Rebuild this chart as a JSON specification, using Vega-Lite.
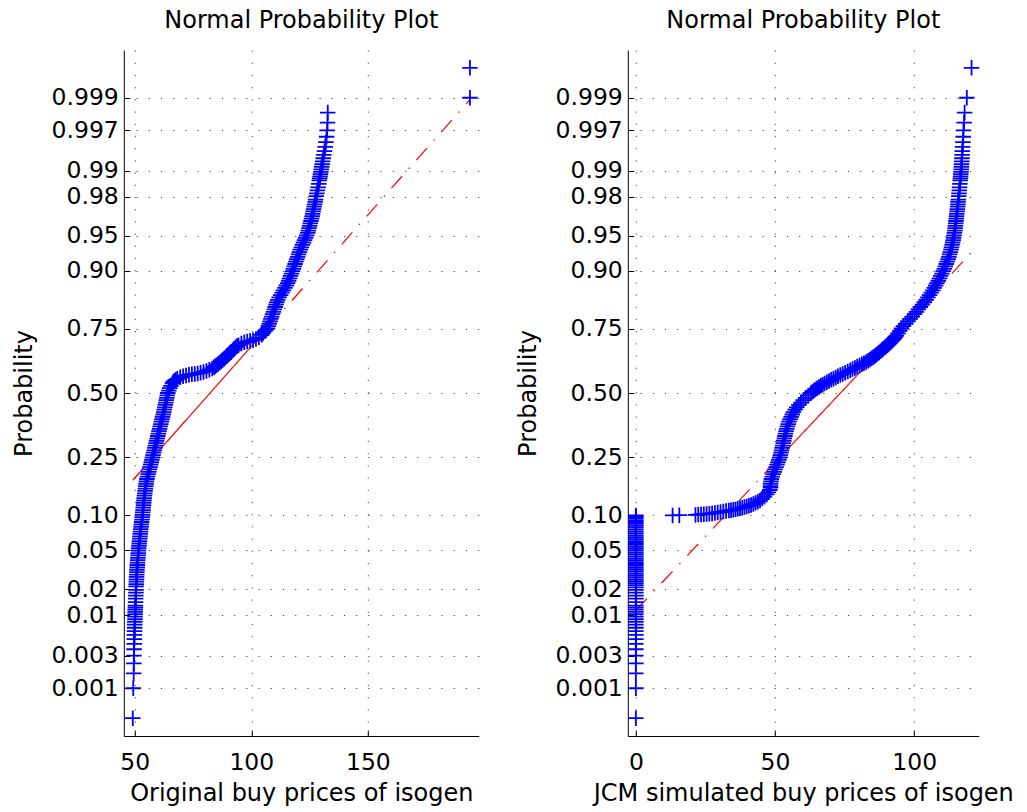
{
  "$schema": "https://vega.github.io/schema/vega-lite/v6.json",
  "background": "white",
  "padding": {"left": 11.8, "top": 9, "right": 0, "bottom": 0},
  "config": {
    "view": {"stroke": null},
    "font": "DejaVu Sans",
    "axis": {
      "domainColor": "#000000",
      "domainWidth": 1,
      "tickColor": "#000000",
      "tickSize": -6,
      "tickWidth": 1,
      "labelFont": "DejaVu Sans",
      "labelFontSize": 23.5,
      "labelColor": "#000000",
      "labelOverlap": false,
      "labelFlush": false,
      "labelBound": false,
      "titleFont": "DejaVu Sans",
      "titleFontSize": 24,
      "titleFontWeight": "normal",
      "titleColor": "#000000",
      "grid": true,
      "gridColor": "#333333",
      "gridDash": [1.2, 11],
      "gridWidth": 1,
      "gridOpacity": 0.9
    },
    "axisX": {"labelPadding": 21, "titlePadding": 7},
    "axisY": {"labelPadding": 11.5, "titlePadding": 14.7},
    "title": {
      "font": "DejaVu Sans",
      "fontSize": 24,
      "fontWeight": "normal",
      "color": "#000000",
      "frame": "group",
      "anchor": "middle",
      "baseline": "alphabetic",
      "offset": 17
    }
  },
  "datasets": {
    "left_pts": [
      {"price":49.15,"z":-3.403},{"price":49.35,"z":-3.09},{"price":49.55,"z":-2.935},{"price":49.6,"z":-2.829},
      {"price":49.65,"z":-2.748},{"price":49.7,"z":-2.682},{"price":49.75,"z":-2.625},{"price":49.8,"z":-2.576},
      {"price":49.85,"z":-2.532},{"price":49.9,"z":-2.493},{"price":49.95,"z":-2.457},{"price":50.0,"z":-2.424},
      {"price":50.05,"z":-2.394},{"price":50.1,"z":-2.366},{"price":50.1,"z":-2.34},{"price":50.15,"z":-2.315},
      {"price":50.2,"z":-2.29},{"price":50.2,"z":-2.268},{"price":50.25,"z":-2.247},{"price":50.3,"z":-2.226},
      {"price":50.35,"z":-2.188},{"price":50.4,"z":-2.153},{"price":50.45,"z":-2.12},{"price":50.5,"z":-2.09},
      {"price":50.55,"z":-2.061},
      {"price":50.57,"z":-2.025},{"price":50.63,"z":-2.0},{"price":50.68,"z":-1.975},{"price":50.74,"z":-1.95},
      {"price":50.79,"z":-1.925},{"price":50.85,"z":-1.9},{"price":50.9,"z":-1.875},{"price":50.96,"z":-1.85},
      {"price":51.04,"z":-1.825},{"price":51.12,"z":-1.8},{"price":51.2,"z":-1.775},{"price":51.27,"z":-1.75},
      {"price":51.35,"z":-1.725},{"price":51.43,"z":-1.7},{"price":51.51,"z":-1.675},{"price":51.58,"z":-1.65},
      {"price":51.69,"z":-1.625},{"price":51.8,"z":-1.6},{"price":51.9,"z":-1.575},{"price":52.01,"z":-1.55},
      {"price":52.12,"z":-1.525},{"price":52.23,"z":-1.5},{"price":52.33,"z":-1.475},{"price":52.46,"z":-1.45},
      {"price":52.58,"z":-1.425},{"price":52.71,"z":-1.4},{"price":52.84,"z":-1.375},{"price":52.96,"z":-1.35},
      {"price":53.09,"z":-1.325},{"price":53.22,"z":-1.3},{"price":53.34,"z":-1.275},{"price":53.44,"z":-1.25},
      {"price":53.54,"z":-1.225},{"price":53.64,"z":-1.2},{"price":53.74,"z":-1.175},{"price":53.84,"z":-1.15},
      {"price":53.94,"z":-1.125},{"price":54.04,"z":-1.1},{"price":54.16,"z":-1.075},{"price":54.3,"z":-1.05},
      {"price":54.44,"z":-1.025},{"price":54.58,"z":-1.0},{"price":54.72,"z":-0.975},{"price":54.86,"z":-0.95},
      {"price":55.0,"z":-0.925},{"price":55.21,"z":-0.9},{"price":55.48,"z":-0.875},{"price":55.76,"z":-0.85},
      {"price":56.03,"z":-0.825},{"price":56.3,"z":-0.8},{"price":56.56,"z":-0.775},{"price":56.82,"z":-0.75},
      {"price":57.08,"z":-0.725},{"price":57.33,"z":-0.7},{"price":57.59,"z":-0.675},{"price":57.84,"z":-0.65},
      {"price":58.1,"z":-0.625},{"price":58.36,"z":-0.6},{"price":58.61,"z":-0.575},{"price":58.87,"z":-0.55},
      {"price":59.12,"z":-0.525},{"price":59.38,"z":-0.5},{"price":59.64,"z":-0.475},{"price":59.89,"z":-0.45},
      {"price":60.15,"z":-0.425},{"price":60.4,"z":-0.4},{"price":60.66,"z":-0.375},{"price":60.92,"z":-0.35},
      {"price":61.17,"z":-0.325},{"price":61.43,"z":-0.3},{"price":61.68,"z":-0.275},{"price":61.94,"z":-0.25},
      {"price":62.2,"z":-0.225},{"price":62.45,"z":-0.2},{"price":62.66,"z":-0.175},{"price":62.88,"z":-0.15},
      {"price":63.09,"z":-0.125},{"price":63.31,"z":-0.1},{"price":63.52,"z":-0.075},{"price":63.74,"z":-0.05},
      {"price":63.95,"z":-0.025},{"price":64.17,"z":0.0},{"price":64.59,"z":0.025},{"price":65.0,"z":0.05},
      {"price":65.51,"z":0.075},{"price":66.14,"z":0.1},{"price":66.5,"z":0.115},{"price":67.0,"z":0.128},
      {"price":67.6,"z":0.138},{"price":68.25,"z":0.149},{"price":69.5,"z":0.164},{"price":70.75,"z":0.175},
      {"price":72.0,"z":0.183},{"price":73.25,"z":0.19},{"price":74.5,"z":0.196},{"price":75.75,"z":0.2},
      {"price":77.0,"z":0.205},{"price":78.25,"z":0.212},{"price":79.5,"z":0.221},{"price":80.75,"z":0.231},
      {"price":82.0,"z":0.244},{"price":83.25,"z":0.257},{"price":84.0,"z":0.27},{"price":84.5,"z":0.28},
      {"price":85.1,"z":0.291},{"price":85.75,"z":0.303},{"price":86.4,"z":0.317},{"price":87.0,"z":0.33},
      {"price":87.6,"z":0.343},{"price":88.25,"z":0.356},{"price":88.9,"z":0.371},{"price":89.5,"z":0.386},
      {"price":90.1,"z":0.401},{"price":90.75,"z":0.417},{"price":91.4,"z":0.433},{"price":92.0,"z":0.447},
      {"price":92.6,"z":0.462},{"price":93.25,"z":0.478},{"price":93.9,"z":0.492},{"price":94.5,"z":0.501},
      {"price":95.75,"z":0.518},{"price":97.0,"z":0.53},{"price":98.25,"z":0.538},{"price":99.5,"z":0.545},
      {"price":100.75,"z":0.553},{"price":102.0,"z":0.566},{"price":103.25,"z":0.583},{"price":104.5,"z":0.609},
      {"price":105.1,"z":0.627},{"price":105.75,"z":0.646},{"price":106.3,"z":0.661},
      {"price":106.95,"z":0.675},{"price":107.32,"z":0.7},{"price":107.68,"z":0.725},{"price":108.05,"z":0.75},
      {"price":108.41,"z":0.775},{"price":108.78,"z":0.8},{"price":109.14,"z":0.825},{"price":109.51,"z":0.85},
      {"price":109.87,"z":0.875},{"price":110.24,"z":0.9},{"price":110.6,"z":0.925},{"price":110.97,"z":0.95},
      {"price":111.37,"z":0.975},{"price":111.98,"z":1.0},{"price":112.59,"z":1.025},{"price":113.21,"z":1.05},
      {"price":113.82,"z":1.075},{"price":114.43,"z":1.1},{"price":115.04,"z":1.125},{"price":115.62,"z":1.15},
      {"price":116.03,"z":1.175},{"price":116.44,"z":1.2},{"price":116.85,"z":1.225},{"price":117.26,"z":1.25},
      {"price":117.67,"z":1.275},{"price":118.04,"z":1.3},{"price":118.41,"z":1.325},{"price":118.78,"z":1.35},
      {"price":119.15,"z":1.375},{"price":119.52,"z":1.4},{"price":119.89,"z":1.425},{"price":120.26,"z":1.45},
      {"price":120.63,"z":1.475},{"price":121.02,"z":1.5},{"price":121.48,"z":1.525},{"price":121.93,"z":1.55},
      {"price":122.39,"z":1.575},{"price":122.85,"z":1.6},{"price":123.31,"z":1.625},{"price":123.76,"z":1.65},
      {"price":124.19,"z":1.675},{"price":124.46,"z":1.7},{"price":124.74,"z":1.725},{"price":125.02,"z":1.75},
      {"price":125.3,"z":1.775},{"price":125.57,"z":1.8},{"price":125.85,"z":1.825},{"price":126.11,"z":1.85},
      {"price":126.32,"z":1.875},{"price":126.54,"z":1.9},{"price":126.75,"z":1.925},{"price":126.97,"z":1.95},
      {"price":127.18,"z":1.975},{"price":127.4,"z":2.0},{"price":127.61,"z":2.025},
      {"price":127.9,"z":2.061},{"price":128.14,"z":2.09},{"price":128.38,"z":2.12},{"price":128.65,"z":2.153},
      {"price":128.94,"z":2.188},{"price":129.2,"z":2.226},{"price":129.35,"z":2.247},{"price":129.5,"z":2.268},
      {"price":129.65,"z":2.29},{"price":129.85,"z":2.315},{"price":130.0,"z":2.34},{"price":130.2,"z":2.366},
      {"price":130.4,"z":2.394},{"price":130.6,"z":2.424},{"price":130.85,"z":2.457},{"price":131.1,"z":2.493},
      {"price":131.4,"z":2.532},{"price":131.7,"z":2.576},{"price":132.0,"z":2.625},{"price":132.3,"z":2.682},
      {"price":132.55,"z":2.748},{"price":132.7,"z":2.829},{"price":132.8,"z":2.935},
      {"price":193.8,"z":3.09},{"price":193.8,"z":3.403}
    ],
    "left_fit": [
      {"price":49.15,"z":-0.913,"seg":"low","style":"dashdot"},
      {"price":57.8,"z":-0.6745,"seg":"low","style":"dashdot"},
      {"price":57.8,"z":-0.6745,"seg":"mid","style":"solid"},
      {"price":106.8,"z":0.6745,"seg":"mid","style":"solid"},
      {"price":106.8,"z":0.6745,"seg":"high","style":"dashdot"},
      {"price":193.8,"z":3.07,"seg":"high","style":"dashdot"}
    ],
    "right_pts": [
      {"price":0,"z":-3.403},{"price":0,"z":-3.09},{"price":0,"z":-2.935},{"price":0,"z":-2.829},
      {"price":0,"z":-2.748},{"price":0,"z":-2.682},{"price":0,"z":-2.625},{"price":0,"z":-2.576},
      {"price":0,"z":-2.532},{"price":0,"z":-2.493},{"price":0,"z":-2.457},{"price":0,"z":-2.424},
      {"price":0,"z":-2.394},{"price":0,"z":-2.366},{"price":0,"z":-2.34},{"price":0,"z":-2.315},
      {"price":0,"z":-2.29},{"price":0,"z":-2.268},{"price":0,"z":-2.247},{"price":0,"z":-2.226},
      {"price":0,"z":-2.188},{"price":0,"z":-2.153},{"price":0,"z":-2.12},{"price":0,"z":-2.09},
      {"price":0,"z":-2.061},{"price":0,"z":-2.035},{"price":0,"z":-2.01},{"price":0,"z":-1.99},
      {"price":0,"z":-1.97},{"price":0,"z":-1.95},{"price":0,"z":-1.93},{"price":0,"z":-1.91},
      {"price":0,"z":-1.89},{"price":0,"z":-1.87},{"price":0,"z":-1.85},{"price":0,"z":-1.83},
      {"price":0,"z":-1.81},{"price":0,"z":-1.79},{"price":0,"z":-1.77},{"price":0,"z":-1.75},
      {"price":0,"z":-1.73},{"price":0,"z":-1.71},{"price":0,"z":-1.69},{"price":0,"z":-1.67},
      {"price":0,"z":-1.65},{"price":0,"z":-1.63},{"price":0,"z":-1.61},{"price":0,"z":-1.59},
      {"price":0,"z":-1.57},{"price":0,"z":-1.55},{"price":0,"z":-1.53},{"price":0,"z":-1.51},
      {"price":0,"z":-1.49},{"price":0,"z":-1.47},{"price":0,"z":-1.45},{"price":0,"z":-1.43},
      {"price":0,"z":-1.41},{"price":0,"z":-1.39},{"price":0,"z":-1.37},{"price":0,"z":-1.35},
      {"price":0,"z":-1.33},{"price":0,"z":-1.31},{"price":0,"z":-1.295},{"price":0,"z":-1.281},
      {"price":13.2,"z":-1.281},{"price":15.6,"z":-1.279},{"price":21.4,"z":-1.276},{"price":22.4,"z":-1.273},
      {"price":23.4,"z":-1.271},{"price":24.4,"z":-1.268},{"price":25.4,"z":-1.266},{"price":26.4,"z":-1.263},
      {"price":27.4,"z":-1.26},{"price":28.4,"z":-1.256},{"price":29.4,"z":-1.251},{"price":30.4,"z":-1.246},
      {"price":31.4,"z":-1.241},{"price":32.4,"z":-1.236},{"price":33.4,"z":-1.231},{"price":34.2,"z":-1.227},
      {"price":35.0,"z":-1.223},{"price":35.8,"z":-1.218},{"price":36.6,"z":-1.212},{"price":37.4,"z":-1.206},
      {"price":38.2,"z":-1.2},{"price":39.0,"z":-1.194},{"price":39.8,"z":-1.188},{"price":40.6,"z":-1.181},
      {"price":41.4,"z":-1.172},{"price":42.2,"z":-1.162},{"price":43.0,"z":-1.15},{"price":43.8,"z":-1.138},
      {"price":44.6,"z":-1.124},{"price":45.4,"z":-1.105},{"price":46.2,"z":-1.085},{"price":47.0,"z":-1.062},
      {"price":47.6,"z":-1.04},{"price":48.1,"z":-1.015},{"price":48.4,"z":-0.99},
      {"price":48.35,"z":-0.975},{"price":48.4,"z":-0.95},{"price":48.55,"z":-0.925},{"price":48.7,"z":-0.9},
      {"price":49.0,"z":-0.875},{"price":49.35,"z":-0.85},{"price":49.7,"z":-0.825},{"price":50.0,"z":-0.8},
      {"price":50.35,"z":-0.775},{"price":50.7,"z":-0.75},{"price":51.05,"z":-0.725},{"price":51.35,"z":-0.7},
      {"price":51.65,"z":-0.675},{"price":51.9,"z":-0.65},{"price":52.15,"z":-0.625},{"price":52.35,"z":-0.6},
      {"price":52.55,"z":-0.575},{"price":52.75,"z":-0.55},{"price":52.95,"z":-0.525},{"price":53.15,"z":-0.5},
      {"price":53.35,"z":-0.475},{"price":53.55,"z":-0.45},{"price":53.75,"z":-0.425},{"price":53.95,"z":-0.4},
      {"price":54.2,"z":-0.375},{"price":54.45,"z":-0.35},{"price":54.75,"z":-0.325},{"price":55.0,"z":-0.3},
      {"price":55.4,"z":-0.275},{"price":55.8,"z":-0.25},{"price":56.2,"z":-0.225},{"price":56.6,"z":-0.2},
      {"price":57.2,"z":-0.175},{"price":57.8,"z":-0.15},{"price":58.55,"z":-0.125},{"price":59.3,"z":-0.1},
      {"price":60.15,"z":-0.075},{"price":61.0,"z":-0.05},{"price":61.95,"z":-0.025},{"price":62.9,"z":0.0},
      {"price":63.45,"z":0.0125},{"price":64.0,"z":0.025},{"price":64.55,"z":0.0375},{"price":65.1,"z":0.05},
      {"price":65.8,"z":0.0625},{"price":66.45,"z":0.075},{"price":67.1,"z":0.0875},{"price":67.8,"z":0.1},
      {"price":68.6,"z":0.1125},{"price":69.4,"z":0.125},{"price":70.2,"z":0.1375},{"price":71.0,"z":0.15},
      {"price":71.8,"z":0.1625},{"price":72.6,"z":0.175},{"price":73.45,"z":0.1875},{"price":74.3,"z":0.2},
      {"price":75.2,"z":0.2125},{"price":76.1,"z":0.225},{"price":77.0,"z":0.2375},{"price":77.85,"z":0.25},
      {"price":78.7,"z":0.2625},{"price":79.5,"z":0.275},{"price":80.35,"z":0.2875},{"price":81.2,"z":0.3},
      {"price":81.95,"z":0.3125},{"price":82.7,"z":0.325},{"price":83.45,"z":0.3375},{"price":84.1,"z":0.35},
      {"price":84.7,"z":0.3625},{"price":85.25,"z":0.375},{"price":85.85,"z":0.3875},{"price":86.4,"z":0.4},
      {"price":86.9,"z":0.4125},{"price":87.4,"z":0.425},{"price":87.9,"z":0.4375},{"price":88.4,"z":0.45},
      {"price":88.9,"z":0.4625},{"price":89.4,"z":0.475},{"price":89.9,"z":0.4875},{"price":90.4,"z":0.5},
      {"price":90.85,"z":0.5125},{"price":91.3,"z":0.525},{"price":91.75,"z":0.5375},{"price":92.2,"z":0.55},
      {"price":92.55,"z":0.5625},{"price":92.9,"z":0.575},{"price":93.25,"z":0.5875},{"price":93.6,"z":0.6},
      {"price":94.2,"z":0.625},{"price":94.8,"z":0.65},{"price":95.4,"z":0.675},{"price":96.1,"z":0.7},
      {"price":96.9,"z":0.725},{"price":97.7,"z":0.75},{"price":98.5,"z":0.775},{"price":99.3,"z":0.8},
      {"price":100.1,"z":0.825},{"price":100.8,"z":0.85},{"price":101.5,"z":0.875},{"price":102.2,"z":0.9},
      {"price":102.9,"z":0.925},{"price":103.6,"z":0.95},{"price":104.3,"z":0.975},{"price":104.9,"z":1.0},
      {"price":105.5,"z":1.025},{"price":106.1,"z":1.05},{"price":106.7,"z":1.075},{"price":107.2,"z":1.1},
      {"price":107.7,"z":1.125},{"price":108.15,"z":1.15},{"price":108.65,"z":1.175},{"price":109.1,"z":1.2},
      {"price":109.5,"z":1.225},{"price":109.95,"z":1.25},{"price":110.4,"z":1.275},{"price":110.8,"z":1.3},
      {"price":111.15,"z":1.325},{"price":111.5,"z":1.35},{"price":111.85,"z":1.375},{"price":112.2,"z":1.4},
      {"price":112.45,"z":1.425},{"price":112.7,"z":1.45},{"price":112.95,"z":1.475},{"price":113.2,"z":1.5},
      {"price":113.4,"z":1.525},{"price":113.6,"z":1.55},{"price":113.8,"z":1.575},{"price":114.0,"z":1.6},
      {"price":114.15,"z":1.625},{"price":114.3,"z":1.65},{"price":114.45,"z":1.675},{"price":114.6,"z":1.7},
      {"price":114.7,"z":1.725},{"price":114.8,"z":1.75},{"price":114.9,"z":1.775},{"price":115.0,"z":1.8},
      {"price":115.1,"z":1.825},{"price":115.2,"z":1.85},{"price":115.3,"z":1.875},{"price":115.4,"z":1.9},
      {"price":115.5,"z":1.925},{"price":115.6,"z":1.95},{"price":115.7,"z":1.975},{"price":115.75,"z":2.0},
      {"price":115.85,"z":2.025},
      {"price":116.0,"z":2.061},{"price":116.1,"z":2.09},{"price":116.2,"z":2.12},{"price":116.3,"z":2.153},
      {"price":116.4,"z":2.188},{"price":116.5,"z":2.226},{"price":116.6,"z":2.247},{"price":116.65,"z":2.268},
      {"price":116.7,"z":2.29},{"price":116.8,"z":2.315},{"price":116.9,"z":2.34},{"price":116.95,"z":2.366},
      {"price":117.0,"z":2.394},{"price":117.1,"z":2.424},{"price":117.15,"z":2.457},{"price":117.2,"z":2.493},
      {"price":117.3,"z":2.532},{"price":117.4,"z":2.576},{"price":117.5,"z":2.625},{"price":117.6,"z":2.682},
      {"price":117.7,"z":2.748},{"price":117.9,"z":2.829},{"price":118.1,"z":2.935},{"price":118.9,"z":3.09},
      {"price":120.6,"z":3.403}
    ],
    "right_fit": [
      {"price":0,"z":-2.274,"seg":"low","style":"dashdot"},
      {"price":51.7,"z":-0.6745,"seg":"low","style":"dashdot"},
      {"price":51.7,"z":-0.6745,"seg":"mid","style":"solid"},
      {"price":95.3,"z":0.6745,"seg":"mid","style":"solid"},
      {"price":95.3,"z":0.6745,"seg":"high","style":"dashdot"},
      {"price":120.6,"z":1.473,"seg":"high","style":"dashdot"}
    ]
  },
  "bounds": "flush",
  "spacing": 149,
  "hconcat": [
    {
      "width": 355,
      "height": 686,
      "title": "Normal Probability Plot",
      "encoding": {
        "x": {
          "field": "price",
          "type": "quantitative",
          "scale": {"domain": [45.3, 197.6], "nice": false, "zero": false},
          "axis": {"title": "Original buy prices of isogen", "values": [50, 100, 150], "format": "d"}
        },
        "y": {
          "field": "z",
          "type": "quantitative",
          "scale": {"domain": [-3.59, 3.59], "nice": false, "zero": false},
          "axis": {
            "title": "Probability",
            "values": [-3.0902, -2.7478, -2.3263, -2.0537, -1.6449, -1.2816, -0.6745, 0, 0.6745, 1.2816, 1.6449, 2.0537, 2.3263, 2.7478, 3.0902],
            "labelExpr": "datum.value < -3 ? '0.001' : datum.value < -2.7 ? '0.003' : datum.value < -2.3 ? '0.01' : datum.value < -2 ? '0.02' : datum.value < -1.6 ? '0.05' : datum.value < -1.2 ? '0.10' : datum.value < -0.6 ? '0.25' : datum.value < 0.6 ? '0.50' : datum.value < 1.2 ? '0.75' : datum.value < 1.6 ? '0.90' : datum.value < 2 ? '0.95' : datum.value < 2.3 ? '0.98' : datum.value < 2.7 ? '0.99' : datum.value < 3 ? '0.997' : '0.999'"
          }
        }
      },
      "layer": [
        {
          "data": {"name": "left_fit"},
          "mark": {"type": "line", "color": "#ff0000", "strokeWidth": 1.2},
          "encoding": {
            "detail": {"field": "seg"},
            "strokeDash": {
              "field": "style",
              "type": "nominal",
              "scale": {"domain": ["solid", "dashdot"], "range": [[1, 0], [16, 10, 1.5, 10]]},
              "legend": null
            }
          }
        },
        {
          "data": {"name": "left_pts"},
          "mark": {"type": "point", "shape": "M-1,0H1M0,-1V1", "filled": false, "color": "#0000ff", "strokeWidth": 1.8, "size": 240, "opacity": 1}
        }
      ]
    },
    {
      "width": 351,
      "height": 686,
      "title": "Normal Probability Plot",
      "encoding": {
        "x": {
          "field": "price",
          "type": "quantitative",
          "scale": {"domain": [-2.9, 123.2], "nice": false, "zero": false},
          "axis": {"title": "JCM simulated buy prices of isogen", "values": [0, 50, 100], "format": "d"}
        },
        "y": {
          "field": "z",
          "type": "quantitative",
          "scale": {"domain": [-3.59, 3.59], "nice": false, "zero": false},
          "axis": {
            "title": "Probability",
            "values": [-3.0902, -2.7478, -2.3263, -2.0537, -1.6449, -1.2816, -0.6745, 0, 0.6745, 1.2816, 1.6449, 2.0537, 2.3263, 2.7478, 3.0902],
            "labelExpr": "datum.value < -3 ? '0.001' : datum.value < -2.7 ? '0.003' : datum.value < -2.3 ? '0.01' : datum.value < -2 ? '0.02' : datum.value < -1.6 ? '0.05' : datum.value < -1.2 ? '0.10' : datum.value < -0.6 ? '0.25' : datum.value < 0.6 ? '0.50' : datum.value < 1.2 ? '0.75' : datum.value < 1.6 ? '0.90' : datum.value < 2 ? '0.95' : datum.value < 2.3 ? '0.98' : datum.value < 2.7 ? '0.99' : datum.value < 3 ? '0.997' : '0.999'"
          }
        }
      },
      "layer": [
        {
          "data": {"name": "right_fit"},
          "mark": {"type": "line", "color": "#ff0000", "strokeWidth": 1.2},
          "encoding": {
            "detail": {"field": "seg"},
            "strokeDash": {
              "field": "style",
              "type": "nominal",
              "scale": {"domain": ["solid", "dashdot"], "range": [[1, 0], [16, 10, 1.5, 10]]},
              "legend": null
            }
          }
        },
        {
          "data": {"name": "right_pts"},
          "mark": {"type": "point", "shape": "M-1,0H1M0,-1V1", "filled": false, "color": "#0000ff", "strokeWidth": 1.8, "size": 240, "opacity": 1}
        }
      ]
    }
  ]
}
